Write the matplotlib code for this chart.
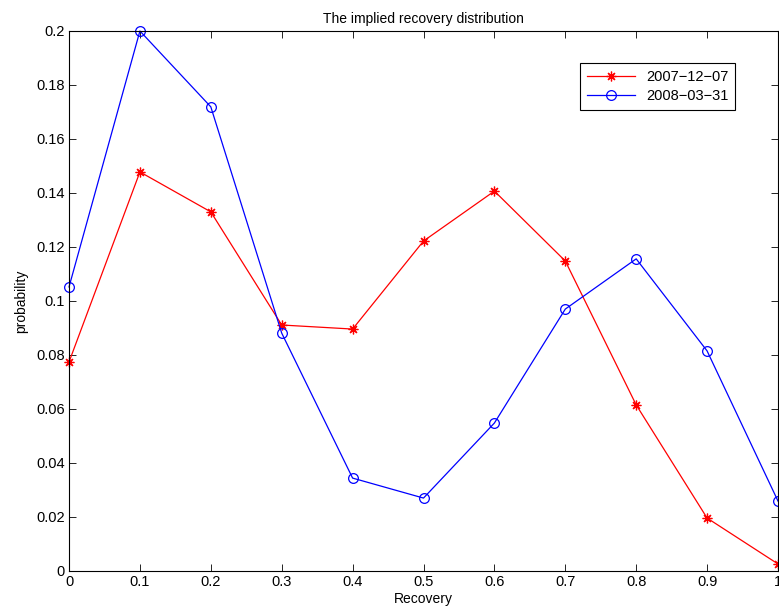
import numpy as np
import matplotlib
matplotlib.use('Agg')
import matplotlib.pyplot as plt

plt.rcParams['font.family'] = ['Liberation Sans', 'DejaVu Sans']

# data
recovery = [0.0, 0.1, 0.2, 0.3, 0.4, 0.5, 0.6, 0.7, 0.8, 0.9, 1.0]
prob_2007 = [0.0774, 0.1478, 0.1330, 0.0911, 0.0896, 0.1222, 0.1407, 0.1148, 0.0615, 0.0196, 0.0026]
prob_2008 = [0.1052, 0.2000, 0.1719, 0.0881, 0.0344, 0.0270, 0.0548, 0.0970, 0.1156, 0.0815, 0.0259]
labels = ['2007\u221212\u221207', '2008\u221203\u221231']
x_ticks = [0, 0.1, 0.2, 0.3, 0.4, 0.5, 0.6, 0.7, 0.8, 0.9, 1]
y_ticks = [0, 0.02, 0.04, 0.06, 0.08, 0.1, 0.12, 0.14, 0.16, 0.18, 0.2]

fig = plt.figure(figsize=(7.79, 6.16), dpi=100)
ax = fig.add_axes([0.0886, 0.0731, 0.9101, 0.8766])

ax.plot(recovery, prob_2007, color='red', marker=(8, 2, 0), markersize=7, mew=0.9,
        lw=0.9, label=labels[0], clip_on=False)
ax.plot(recovery, prob_2008, color='blue', marker='o', markersize=7, mfc='none',
        mew=0.9, lw=0.9, label=labels[1], clip_on=False)

ax.set_xlim(0, 1)
ax.set_ylim(0, 0.2)
ax.set_xticks(x_ticks)
ax.set_xticklabels(['0', '0.1', '0.2', '0.3', '0.4', '0.5', '0.6', '0.7', '0.8', '0.9', '1'])
ax.set_yticks(y_ticks)
ax.set_yticklabels(['0', '0.02', '0.04', '0.06', '0.08', '0.1', '0.12', '0.14', '0.16', '0.18', '0.2'])
ax.tick_params(direction='in', top=True, right=True, length=5, width=0.6, labelsize=10.5, pad=3)
for s in ax.spines.values():
    s.set_linewidth(0.8)

ax.set_xlabel('Recovery', fontsize=10, labelpad=2)
ax.set_ylabel('probability', fontsize=10, labelpad=6)
ax.set_title('The implied recovery distribution', fontsize=10, pad=6)

leg = ax.legend(loc='upper right', bbox_to_anchor=(0.940, 0.94), fontsize=10.5,
                fancybox=False, framealpha=1, edgecolor='black', borderpad=0.45,
                handlelength=3.3, labelspacing=0.35, borderaxespad=0)
leg.get_frame().set_linewidth(0.8)

fig.savefig('out.png', dpi=100)
